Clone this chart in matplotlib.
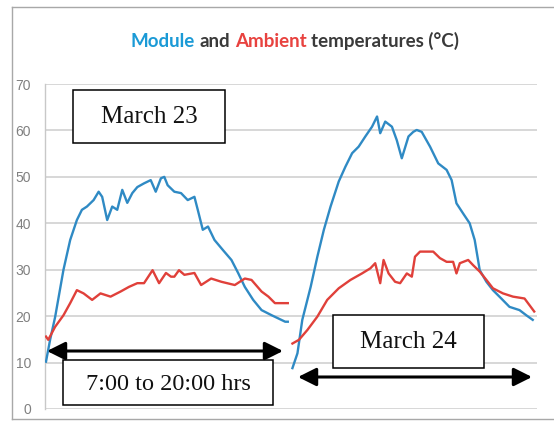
import matplotlib
matplotlib.use("Agg")
import matplotlib.pyplot as plt
from matplotlib.patches import Rectangle
from matplotlib.lines import Line2D

# ---------------- data (hour of day, temperature °C) ----------------
day1_module_h = [7.00, 7.22, 7.49, 7.94, 8.30, 8.66, 8.93, 9.20, 9.56, 9.83, 10.02, 10.29, 10.56,
                 10.83, 11.10, 11.37, 11.64, 11.91, 12.27, 12.63, 12.90, 13.18, 13.36, 13.54, 13.90,
                 14.26, 14.62, 14.98, 15.16, 15.43, 15.71, 16.06, 16.52, 16.97, 17.33, 17.69, 18.14,
                 18.59, 19.13, 19.86, 20.00]
day1_module_t = [10.2, 14.9, 19.8, 30.0, 36.4, 40.7, 42.9, 43.6, 45.0, 46.8, 45.7, 40.7, 43.6,
                 42.9, 47.2, 44.4, 46.5, 47.8, 48.6, 49.3, 46.8, 49.7, 50.0, 48.2, 46.8,
                 46.5, 45.0, 45.7, 42.9, 38.6, 39.3, 36.4, 34.2, 32.1, 29.3, 26.3, 23.5,
                 21.3, 20.2, 18.8, 18.8]

day1_ambient_h = [7.00, 7.12, 7.49, 7.94, 8.30, 8.66, 9.02, 9.48, 9.93, 10.47, 11.01, 11.46, 11.91,
                  12.27, 12.73, 13.08, 13.45, 13.72, 13.90, 14.15, 14.44, 14.98, 15.34, 15.88,
                  16.43, 17.15, 17.69, 18.05, 18.59, 18.96, 19.31, 20.00]
day1_ambient_t = [15.6, 14.9, 17.7, 20.2, 22.8, 25.6, 24.9, 23.5, 24.9, 24.2, 25.3, 26.3, 27.1,
                  27.1, 29.9, 27.1, 29.3, 28.5, 28.5, 29.9, 28.9, 29.3, 26.7, 28.1,
                  27.4, 26.7, 28.1, 27.8, 25.3, 24.2, 22.8, 22.8]

day2_module_h = [7.00, 7.27, 7.53, 7.98, 8.34, 8.69, 9.05, 9.49, 9.85, 10.21, 10.56, 10.92, 11.28,
                 11.55, 11.72, 11.99, 12.35, 12.61, 12.88, 13.24, 13.50, 13.68, 13.95, 14.40,
                 14.84, 15.29, 15.56, 15.82, 16.18, 16.53, 16.80, 16.98, 17.07, 17.43, 17.78,
                 18.23, 18.67, 19.21, 19.57, 19.92]
day2_module_t = [8.8, 12.0, 19.2, 26.3, 32.8, 38.6, 43.6, 49.0, 52.2, 55.1, 56.5, 58.7, 60.8,
                 63.0, 59.4, 61.9, 60.8, 57.9, 54.0, 58.7, 59.7, 60.1, 59.7, 56.5,
                 52.9, 51.5, 49.3, 44.3, 42.1, 40.0, 36.4, 32.1, 29.9, 27.4, 25.6,
                 23.8, 22.0, 21.3, 20.2, 19.2]

day2_ambient_h = [7.00, 7.35, 7.80, 8.34, 8.87, 9.49, 10.12, 10.74, 11.19, 11.45, 11.72, 11.90,
                  12.17, 12.52, 12.79, 13.15, 13.42, 13.59, 13.86, 14.57, 14.93, 15.29, 15.64,
                  15.82, 16.00, 16.45, 16.71, 17.07, 17.43, 17.78, 18.32, 18.86, 19.48, 20.00]
day2_ambient_t = [14.1, 14.9, 17.0, 19.9, 23.5, 26.0, 27.8, 29.2, 30.3, 31.4, 27.1, 32.1,
                  29.2, 27.4, 27.1, 29.2, 28.5, 32.8, 33.9, 33.9, 32.5, 31.7, 31.7,
                  29.2, 31.4, 32.1, 31.0, 29.6, 27.8, 26.0, 24.9, 24.2, 23.8, 21.0]

day_offsets = [0.0, 13.25]          # daytime-only axis: second day follows the first
y_ticks = [0, 10, 20, 30, 40, 50, 60, 70]
title_parts = ["Module", "and", "Ambient", "temperatures (°C)"]
day_labels = ["March 23", "March 24"]
span_label = "7:00 to 20:00 hrs"

# ---------------- figure ----------------
W, H = 554, 421
fig = plt.figure(figsize=(W / 100, H / 100), dpi=100)
fig.patch.set_facecolor("white")

def fx(px):
    return px / W

def fy(py):
    return 1 - py / H

ax = fig.add_axes([fx(45), fy(409), fx(537) - fx(45), fy(84) - fy(409)])
ax.set_xlim(-0.054, 26.4)
ax.set_ylim(0, 70)

BLUE = "#2f8ac4"
RED = "#e0403a"

def shift(hours, off):
    return [h - 7 + off for h in hours]

ax.plot(shift(day1_module_h, day_offsets[0]), day1_module_t, color=BLUE, lw=1.7, zorder=3)
ax.plot(shift(day2_module_h, day_offsets[1]), day2_module_t, color=BLUE, lw=1.7, zorder=3)
ax.plot(shift(day1_ambient_h, day_offsets[0]), day1_ambient_t, color=RED, lw=1.7, zorder=3)
ax.plot(shift(day2_ambient_h, day_offsets[1]), day2_ambient_t, color=RED, lw=1.7, zorder=3)

ax.set_yticks(y_ticks)
ax.set_yticklabels([str(v) for v in y_ticks], fontfamily="Liberation Sans", fontsize=10,
                   color="#808080")
ax.tick_params(axis="y", length=0, pad=10)
ax.set_xticks([])
ax.grid(axis="y", color="#d4d4d4", lw=1.3)
ax.set_axisbelow(True)
for s in ["top", "right", "bottom"]:
    ax.spines[s].set_visible(False)
ax.spines["left"].set_color("#c8c8c8")
ax.spines["left"].set_linewidth(1.0)

# outer frame of the chart image
frame_col = "#a8a8a8"
for (x0, y0, x1, y1) in [(12, 7, 553, 7), (12, 7, 12, 419), (12, 419, 553, 419)]:
    fig.add_artist(Line2D([fx(x0), fx(x1)], [fy(y0), fy(y1)], color=frame_col, lw=1.0,
                          transform=fig.transFigure))

# ---------------- multi-colour title ----------------
renderer = fig.canvas.get_renderer()
tprops = dict(fontfamily="Lato", fontweight="bold", fontsize=13.5)
colors = ["#1b9ad6", "#3a3a3a", "#e8423f", "#3a3a3a"]

def width_px(s):
    t = fig.text(0, 0, s, **tprops)
    w = t.get_window_extent(renderer).width
    t.remove()
    return w

space = width_px("a a") - width_px("aa")
widths = [width_px(p) for p in title_parts]
total = sum(widths) + space * (len(title_parts) - 1)
x = 295 - total / 2
for p, c, w in zip(title_parts, colors, widths):
    fig.text(fx(x), fy(47), p, color=c, ha="left", va="baseline", **tprops)
    x += w + space

# ---------------- annotation boxes ----------------
def box(x0, y0, x1, y1, text, size, ty=None):
    fig.add_artist(Rectangle((fx(x0), fy(y1)), fx(x1) - fx(x0), fy(y0) - fy(y1),
                             transform=fig.transFigure, facecolor="white",
                             edgecolor="black", lw=1.1, zorder=5))
    cy = (y0 + y1) / 2 if ty is None else ty
    fig.text(fx((x0 + x1) / 2), fy(cy), text, ha="center", va="center",
             fontfamily="Liberation Serif", fontsize=size, color="#111111", zorder=6)

box(73, 90, 225, 143, day_labels[0], 18, 117)
box(333, 315, 484, 368, day_labels[1], 18, 342)
box(63, 360, 273, 405, span_label, 17.5, 385)

# ---------------- double arrows ----------------
def arrow(x0, x1, y):
    fig.add_artist(matplotlib.patches.FancyArrowPatch(
        (fx(x0), fy(y)), (fx(x1), fy(y)), transform=fig.transFigure,
        arrowstyle="<|-|>,head_length=1.1,head_width=0.55", mutation_scale=10,
        color="black", lw=2.2, shrinkA=0, shrinkB=0, zorder=7))

arrow(47, 283, 351)
arrow(298, 532, 377)

fig.savefig("out.png", dpi=100)
